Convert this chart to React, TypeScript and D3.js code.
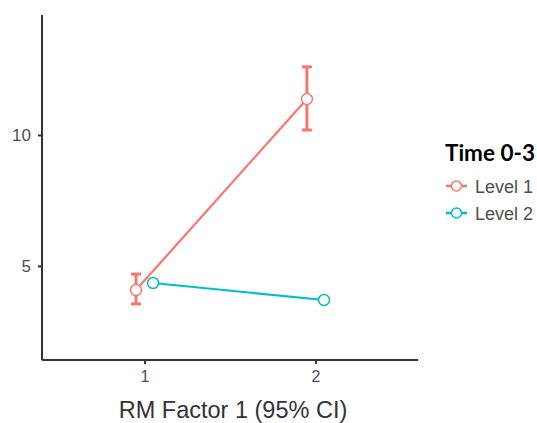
import React, { useEffect, useRef } from 'react';
import * as d3 from 'd3';

const levels = ['Level 1', 'Level 2'];
const colors = ['#F8766D', '#00BFC4'];
const factorLevels = [1, 2];
const means = [
  [4.08, 11.37],
  [4.35, 3.7],
];
const lower = [
  [3.55, 10.19],
  [4.35, 3.7],
];
const upper = [
  [4.69, 12.6],
  [4.35, 3.7],
];
const yTicks = [5, 10];
const dodge = [-0.05, 0.05];

const App = () => {
  const ref = useRef<SVGSVGElement>(null);

  useEffect(() => {
    const svg = d3.select(ref.current);
    svg.selectAll('*').remove();

    const x = d3.scaleLinear().domain([0.4, 2.6]).range([42, 418]);
    const y = d3.scaleLinear().domain([1.41, 14.58]).range([360, 15]);

    // axes
    const yAxis = svg.append('g').attr('transform', 'translate(42,0)')
      .call(d3.axisLeft(y).tickValues(yTicks).tickSize(4).tickPadding(7));
    const xAxis = svg.append('g').attr('transform', 'translate(0,360)')
      .call(d3.axisBottom(x).tickValues(factorLevels).tickSize(4).tickPadding(7).tickFormat(d3.format('d')));
    [yAxis, xAxis].forEach((g) => {
      g.attr('font-family', 'Liberation Sans, Arial, sans-serif').attr('font-size', 17);
      g.select('.domain').attr('stroke', '#333').attr('stroke-width', 2);
      g.selectAll('.tick line').attr('stroke', '#333').attr('stroke-width', 2);
      g.selectAll('.tick text').attr('fill', '#4d4d4d');
    });
    xAxis.attr('font-size', 16);
    yAxis.select('.domain').attr('d', `M0,${y.range()[1]}V${y.range()[0]}`);
    xAxis.select('.domain').attr('d', `M${x.range()[0]},0H${x.range()[1]}`);

    svg.append('text')
      .attr('x', 233).attr('y', 418).attr('text-anchor', 'middle')
      .attr('fill', '#333')
      .attr('font-family', 'Liberation Sans, Arial, sans-serif').attr('font-size', 23.5)
      .text('RM Factor 1 (95% CI)');

    const line = d3.line<number>();

    levels.forEach((lv, i) => {
      const pts: [number, number][] = factorLevels.map((f, j) => [x(f + dodge[i]), y(means[i][j])]);
      svg.append('path').attr('d', line(pts as any)).attr('fill', 'none')
        .attr('stroke', colors[i]).attr('stroke-width', 2.2);

      factorLevels.forEach((f, j) => {
        const cx = x(f + dodge[i]);
        const g = svg.append('g').attr('stroke', colors[i]).attr('stroke-width', 3);
        g.append('line').attr('x1', cx).attr('x2', cx).attr('y1', y(lower[i][j])).attr('y2', y(upper[i][j]));
        if (upper[i][j] > lower[i][j]) {
          [lower[i][j], upper[i][j]].forEach((v) => {
            g.append('line').attr('x1', cx - 5).attr('x2', cx + 5).attr('y1', y(v)).attr('y2', y(v));
          });
        }
      });

      factorLevels.forEach((f, j) => {
        svg.append('circle').attr('cx', x(f + dodge[i])).attr('cy', y(means[i][j])).attr('r', 5.5)
          .attr('fill', 'white').attr('stroke', colors[i]).attr('stroke-width', 1.5);
      });
    });

    // legend
    const lg = svg.append('g').attr('transform', 'translate(445,0)');
    lg.append('text').attr('x', 0).attr('y', 161).attr('fill', '#000')
      .attr('font-family', 'Lato, Liberation Sans, sans-serif').attr('font-size', 22.5).attr('font-weight', 'bold')
      .text('Time 0-3');
    levels.forEach((lv, i) => {
      const cy = 186 + i * 27;
      lg.append('line').attr('x1', 1).attr('x2', 22).attr('y1', cy).attr('y2', cy)
        .attr('stroke', colors[i]).attr('stroke-width', 2.6);
      lg.append('circle').attr('cx', 11.5).attr('cy', cy).attr('r', 5)
        .attr('fill', 'white').attr('stroke', colors[i]).attr('stroke-width', 1.5);
      lg.append('text').attr('x', 30).attr('y', cy + 6.5).attr('fill', '#4d4d4d')
        .attr('font-family', 'Liberation Sans, Arial, sans-serif').attr('font-size', 18)
        .text(lv);
    });
  }, []);

  return (
    <svg ref={ref} width={537} height={423}
      style={{ position: 'absolute', left: 0, top: 0, background: 'white' }} />
  );
};

export default App;
